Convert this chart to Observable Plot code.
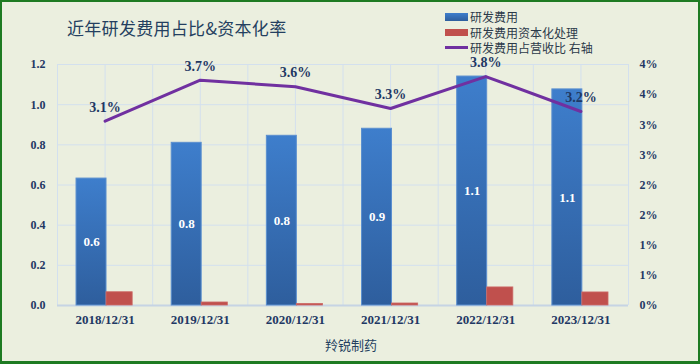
<!DOCTYPE html>
<html><head><meta charset="utf-8">
<script src="https://cdn.jsdelivr.net/npm/d3@7"></script>
<script src="https://cdn.jsdelivr.net/npm/@observablehq/plot@0.6"></script>
<style>
body{margin:0;}
#wrap{position:relative;width:700px;height:364px;background:#EBEFDF;overflow:hidden;}
#frame{position:absolute;left:0;top:0;width:700px;height:364px;box-sizing:border-box;border:2px solid #1E7B22;border-bottom-width:3px;pointer-events:none;}
#chart{position:absolute;left:0;top:0;}
#title{position:absolute;left:67px;top:17px;font-family:"Noto Sans CJK SC",sans-serif;font-size:17px;line-height:22px;color:#243F60;letter-spacing:0.3px;}
#legend{position:absolute;left:445px;top:9px;font-family:"Noto Sans CJK SC",sans-serif;font-size:12px;color:#2B3A4A;}
#legend .row{display:flex;align-items:center;height:15.5px;}
#legend .sw{width:23px;margin-right:2px;}
#xlabel{position:absolute;left:0;width:702px;text-align:center;top:335px;font-family:"Noto Sans CJK SC",sans-serif;font-size:13px;color:#243F60;}
</style></head><body>
<div id="wrap">
  <div id="chart"></div>
  <div id="title">近年研发费用占比&amp;资本化率</div>
  <div id="legend"></div>
  <div id="xlabel">羚锐制药</div>
  <div id="frame"></div>
</div>
<script>
const categories = ["2018/12/31","2019/12/31","2020/12/31","2021/12/31","2022/12/31","2023/12/31"];
const rdExpense = [0.632, 0.81, 0.845, 0.88, 1.14, 1.076];
const rdCapitalized = [0.066, 0.015, 0.008, 0.010, 0.090, 0.065];
const rdRatioPct = [3.06, 3.74, 3.63, 3.27, 3.80, 3.22];
const leftTicks = [0, 0.2, 0.4, 0.6, 0.8, 1.0, 1.2];
const rightTickValues = [0, 0.5, 1, 1.5, 2, 2.5, 3, 3.5, 4];
const rightTickLabels = ["0%","1%","1%","2%","2%","3%","3%","4%","4%"];
const seriesNames = ["研发费用","研发费用资本化处理","研发费用占营收比 右轴"];
const colors = {blue:"#3A78C2", red:"#C0504D", purple:"#7030A0", text:"#1F3864", grid:"#D3E0EE"};

const data = categories.map((c,i)=>({i, c, rd: rdExpense[i], cap: rdCapitalized[i], pct: rdRatioPct[i]}));
const pctToY = 1.2 / 4; // right axis 0–4% mapped onto left 0–1.2
const vGrid = d3.range(0, categories.length * 2 + 1).map(k => k / 2);

const serif = "'Liberation Serif','DejaVu Serif',serif";
const svg = Plot.plot({
  width: 700, height: 364,
  marginLeft: 57, marginRight: 72, marginTop: 64, marginBottom: 59,
  style: {background: "transparent", fontFamily: serif, fontSize: "12px", fontWeight: "bold", color: colors.text},
  x: {type: "linear", domain: [0, categories.length], axis: null},
  y: {domain: [0, 1.2], axis: null},
  marks: [
    Plot.ruleY(leftTicks, {stroke: colors.grid, strokeWidth: 1}),
    Plot.ruleX(vGrid, {stroke: colors.grid, strokeWidth: 1}),
    Plot.ruleY([0], {stroke: "#C6D4E4", strokeWidth: 2}),
    Plot.axisY(leftTicks, {anchor: "left", tickSize: 0, tickPadding: 12, tickFormat: d => d.toFixed(1), fontWeight: "bold"}),
    Plot.axisY(rightTickValues.map(v => v * pctToY), {anchor: "right", tickSize: 0, tickPadding: 11, tickFormat: (d, i) => rightTickLabels[i], fontWeight: "bold"}),
    Plot.axisX(categories.map((c, i) => i + 0.5), {anchor: "bottom", tickSize: 0, tickPadding: 9, tickFormat: (d, i) => categories[i], fontSize: 13, fontWeight: "bold"}),
    Plot.rectY(data, {x1: d => d.i + 0.2, x2: d => d.i + 0.515, y1: 0, y2: "rd", fill: "url(#gBlue)", stroke: "#5B8FCF", strokeWidth: 1}),
    Plot.rectY(data, {x1: d => d.i + 0.515, x2: d => d.i + 0.79, y1: 0, y2: "cap", fill: colors.red, stroke: "#CC6A67", strokeWidth: 0.8}),
    Plot.text(data, {x: d => d.i + 0.3575, y: d => d.rd / 2, text: d => d.rd.toFixed(1), fill: "white", fontSize: 13, fontWeight: "bold"}),
    Plot.line(data, {x: d => d.i + 0.5, y: d => d.pct * pctToY, stroke: colors.purple, strokeWidth: 3}),
    Plot.text(data, {x: d => d.i + 0.5, y: d => d.pct * pctToY, dy: -14, text: d => d.pct.toFixed(1) + "%", fill: colors.text, fontSize: 14, fontWeight: "bold"})
  ]
});
const defs = d3.select(svg).insert("defs", ":first-child");
const g = defs.append("linearGradient").attr("id", "gBlue").attr("x1", 0).attr("y1", 0).attr("x2", 0).attr("y2", 1);
g.append("stop").attr("offset", "0%").attr("stop-color", "#3E7ECC");
g.append("stop").attr("offset", "100%").attr("stop-color", "#2E5E9D");
document.getElementById("chart").appendChild(svg);

const legend = d3.select("#legend");
const sw = [
  s => s.style("height", "8px").style("background", "linear-gradient(#3E7ECC,#2E5E9D)"),
  s => s.style("height", "7px").style("background", colors.red),
  s => s.style("height", "3px").style("background", colors.purple)
];
seriesNames.forEach((n, k) => {
  const row = legend.append("div").attr("class", "row");
  sw[k](row.append("div").attr("class", "sw"));
  row.append("span").text(n);
});
</script>
</body></html>
